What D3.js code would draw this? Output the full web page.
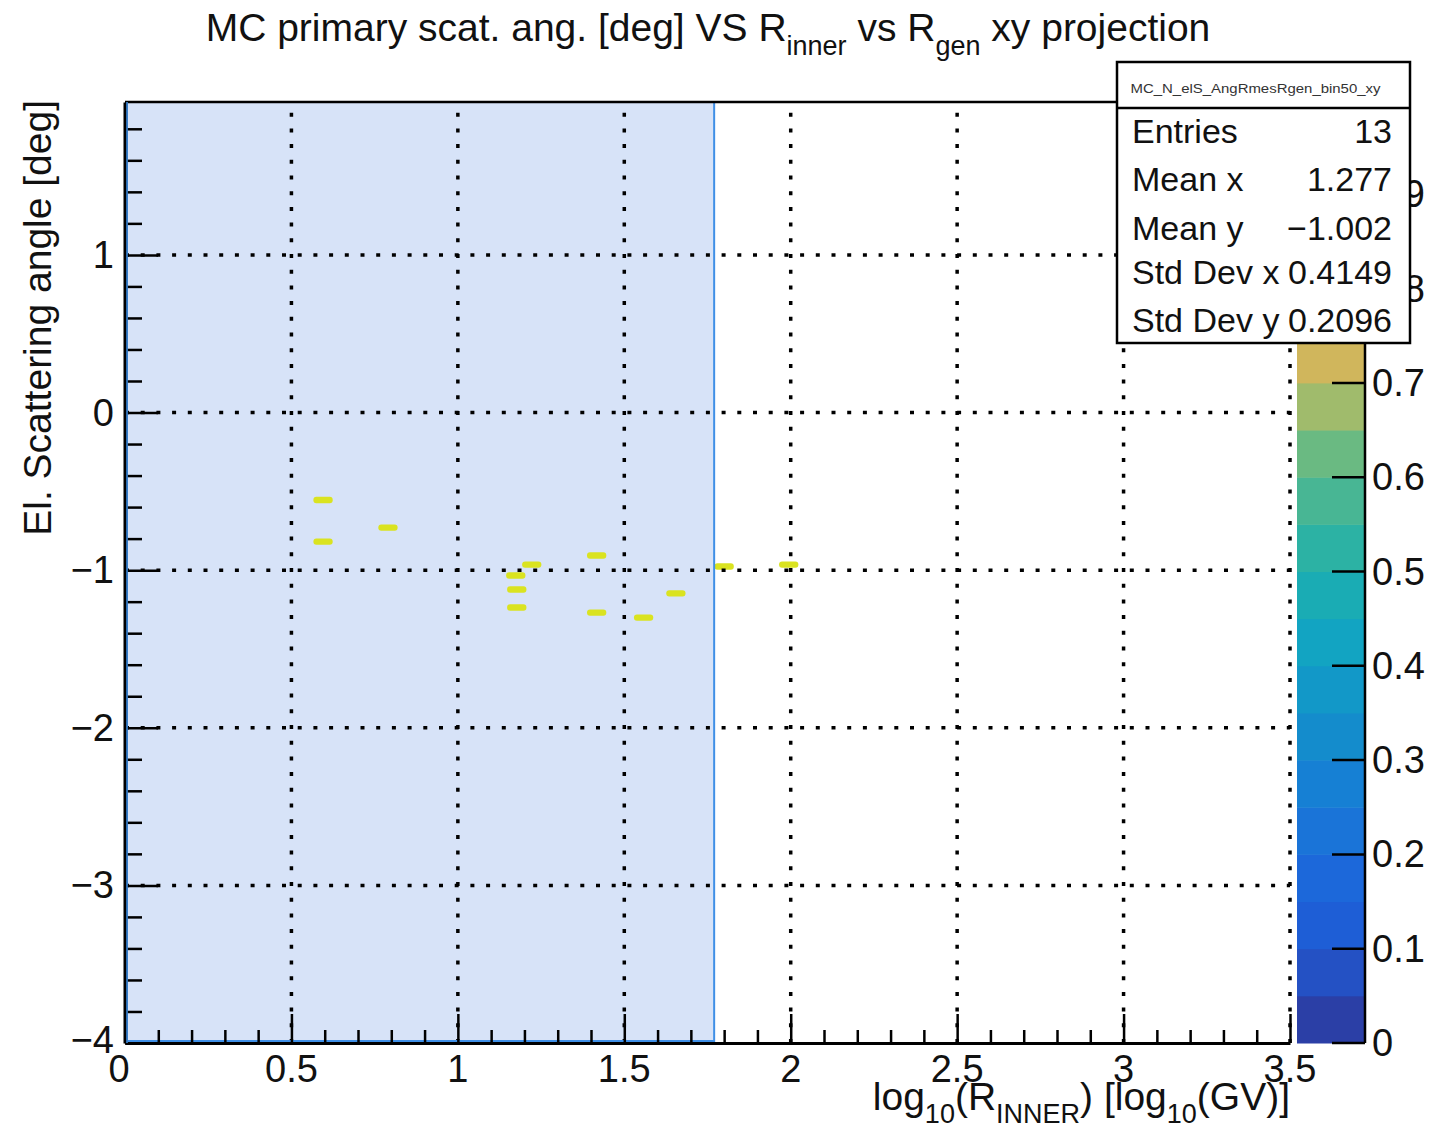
<!DOCTYPE html>
<html>
<head>
<meta charset="utf-8">
<script src="https://d3js.org/d3.v7.min.js"></script>
<style>
  html, body { margin: 0; padding: 0; background: #fff; }
  svg { font-family: 'Liberation Sans', Arial, sans-serif; }
</style>
</head>
<body>
<div id="chart"></div>
<script>
// filled bins (centers), content of each bin
const binX = [0.595, 0.595, 0.790, 1.222, 1.174, 1.177, 1.177, 1.417, 1.417, 1.558, 1.655, 1.800, 1.994]
const binY = [-0.555, -0.819, -0.730, -0.965, -1.034, -1.123, -1.237, -0.907, -1.269, -1.301, -1.148, -0.977, -0.965]
const binZ = [1, 1, 1, 1, 1, 1, 1, 1, 1, 1, 1, 1, 1]

const xTicks = [0, 0.5, 1, 1.5, 2, 2.5, 3, 3.5]
const yTicks = [-4, -3, -2, -1, 0, 1]
const zTicks = [0, 0.1, 0.2, 0.3, 0.4, 0.5, 0.6, 0.7, 0.8, 0.9, 1]

const statNames = ['Entries', 'Mean x', 'Mean y', 'Std Dev x', 'Std Dev y']
const statValues = ['13', '1.277', '\u22121.002', '0.4149', '0.2096']
const statTitle = 'MC_N_elS_AngRmesRgen_bin50_xy'

// region shaded in blue (x range)
const cutRange = [0, 1.77]

// 20 contour colours, bottom to top
const palette = ['#2b3fa6', '#2451c4', '#1e5ed6', '#1c68da', '#1a74d8', '#1680d4', '#148ccc', '#1298c8',
  '#12a4c2', '#1aacb4', '#2cb2a4', '#48b694', '#6aba82', '#a0bb6c', '#d0b65c', '#e4be4a',
  '#ecca3a', '#ecd62e', '#e4de26', '#dae320']

const W = 1455, H = 1130
const frame = {left: 125, right: 1290, top: 102, bottom: 1043}
const FS = 38, SUB = 27

const svg = d3.select('#chart').append('svg')
  .attr('width', W).attr('height', H)

const x = d3.scaleLinear().domain([0, 3.5]).range([frame.left, frame.right])
const y = d3.scaleLinear().domain([-4, 1.97]).range([frame.bottom, frame.top])
const z = d3.scaleLinear().domain([0, 1]).range([frame.bottom, 100])
const zColor = d3.scaleQuantize().domain([0, 1]).range(palette)

// blue shaded box
svg.append('rect')
  .attr('x', x(cutRange[0])).attr('y', frame.top)
  .attr('width', x(cutRange[1]) - x(cutRange[0])).attr('height', frame.bottom - frame.top)
  .attr('fill', '#d7e3f8')

// bins
const bw = 0.058, bh = 0.04
svg.selectAll('.bin')
  .data(binX.map((d, i) => ({x: d, y: binY[i], z: binZ[i]})))
  .enter().append('rect')
  .attr('x', d => x(d.x - bw / 2))
  .attr('y', d => y(d.y + bh / 2))
  .attr('width', x(bw) - x(0))
  .attr('height', y(0) - y(bh))
  .attr('rx', 3)
  .attr('fill', d => zColor(Math.min(d.z, 0.999)))

// grid
const gridStyle = g => g.attr('stroke', '#000').attr('stroke-width', 3.5)
  .attr('stroke-dasharray', '4,11.7')
svg.append('g').selectAll('line')
  .data(xTicks.filter(d => d > 0)).enter().append('line')
  .attr('x1', d => x(d)).attr('x2', d => x(d))
  .attr('y1', frame.bottom).attr('y2', frame.top)
  .call(gridStyle)
svg.append('g').selectAll('line')
  .data(yTicks.filter(d => d > -4)).enter().append('line')
  .attr('y1', d => y(d)).attr('y2', d => y(d))
  .attr('x1', frame.left).attr('x2', frame.right)
  .call(gridStyle)

// box border
svg.append('rect')
  .attr('x', x(cutRange[0]) + 2).attr('y', frame.top)
  .attr('width', x(cutRange[1]) - x(cutRange[0]) - 2).attr('height', frame.bottom - frame.top - 2)
  .attr('fill', 'none').attr('stroke', '#3f8fe6').attr('stroke-width', 2)

// frame
svg.append('line').attr('x1', frame.left).attr('x2', frame.right)
  .attr('y1', frame.top).attr('y2', frame.top).attr('stroke', '#000').attr('stroke-width', 2.5)

// axes, ROOT-like ticks drawn inside
const xAxis = d3.axisBottom(x).tickValues(d3.range(0, 3.501, 0.1)).tickSize(0).tickFormat('')
const xg = svg.append('g').attr('transform', `translate(0,${frame.bottom})`).call(xAxis)
xg.select('.domain').attr('stroke', '#000').attr('stroke-width', 3)
xg.selectAll('.tick line')
  .attr('y2', d => Math.abs(d * 2 - Math.round(d * 2)) < 1e-6 ? -29 : -13)
  .attr('stroke', '#000').attr('stroke-width', 2.5)
svg.append('g').selectAll('text').data(xTicks).enter().append('text')
  .attr('x', d => x(d) - (d === 0 ? 6 : 0)).attr('y', 1082)
  .attr('text-anchor', 'middle').attr('font-size', FS).attr('fill', '#111')
  .text(d => d)

const yAxis = d3.axisLeft(y).tickValues(d3.range(-4, 1.97, 0.2)).tickSize(0).tickFormat('')
const yg = svg.append('g').attr('transform', `translate(${frame.left},0)`).call(yAxis)
yg.select('.domain').attr('stroke', '#000').attr('stroke-width', 4)
yg.selectAll('.tick line')
  .attr('x2', d => Math.abs(d - Math.round(d)) < 1e-6 ? 33 : 17)
  .attr('stroke', '#000').attr('stroke-width', 2.5)
svg.append('g').selectAll('text').data(yTicks).enter().append('text')
  .attr('x', 114).attr('y', d => y(d) + 13 - (d === -4 ? 3 : 0))
  .attr('text-anchor', 'end').attr('font-size', FS).attr('fill', '#111')
  .text(d => d < 0 ? '\u2212' + Math.abs(d) : d)

// left blue edge of the box over axis
svg.append('line').attr('x1', frame.left + 2).attr('x2', frame.left + 2)
  .attr('y1', frame.top).attr('y2', frame.bottom).attr('stroke', '#3f8fe6').attr('stroke-width', 1.5)

// colour bar
const cb = {left: 1297, right: 1365}
svg.append('g').selectAll('rect').data(palette).enter().append('rect')
  .attr('x', cb.left).attr('width', cb.right - cb.left)
  .attr('y', (d, i) => z((i + 1) / palette.length))
  .attr('height', (d, i) => z(i / palette.length) - z((i + 1) / palette.length) + 0.5)
  .attr('fill', d => d)
svg.append('line').attr('x1', cb.right).attr('x2', cb.right)
  .attr('y1', z(1)).attr('y2', frame.bottom).attr('stroke', '#000').attr('stroke-width', 2.5)
svg.append('g').selectAll('line').data(zTicks).enter().append('line')
  .attr('x1', cb.right - 33).attr('x2', cb.right)
  .attr('y1', d => z(d)).attr('y2', d => z(d))
  .attr('stroke', '#000').attr('stroke-width', 2.5)
svg.append('g').selectAll('text').data(zTicks).enter().append('text')
  .attr('x', 1372).attr('y', d => z(d) + 13)
  .attr('font-size', FS).attr('fill', '#111')
  .text(d => d3.format('.1~f')(d))

// title
const title = svg.append('text').attr('x', 708).attr('y', 41)
  .attr('text-anchor', 'middle').attr('font-size', 39).attr('fill', '#111')
title.append('tspan').text('MC primary scat. ang. [deg] VS R')
title.append('tspan').attr('font-size', SUB).attr('dy', 14).text('inner')
title.append('tspan').attr('dy', -14).text(' vs R')
title.append('tspan').attr('font-size', SUB).attr('dy', 14).text('gen')
title.append('tspan').attr('dy', -14).text(' xy projection')

// axis titles
const xt = svg.append('text').attr('x', frame.right).attr('y', 1110)
  .attr('text-anchor', 'end').attr('font-size', 39).attr('fill', '#111')
xt.append('tspan').text('log')
xt.append('tspan').attr('font-size', SUB).attr('dy', 13).text('10')
xt.append('tspan').attr('dy', -13).text('(R')
xt.append('tspan').attr('font-size', SUB).attr('dy', 13).text('INNER')
xt.append('tspan').attr('dy', -13).text(') [log')
xt.append('tspan').attr('font-size', SUB).attr('dy', 13).text('10')
xt.append('tspan').attr('dy', -13).text('(GV)]')

svg.append('text')
  .attr('transform', 'translate(51,100) rotate(-90)')
  .attr('text-anchor', 'end').attr('font-size', 39).attr('fill', '#111')
  .text('El. Scattering angle [deg]')

// stats box
const sb = {x: 1117, y: 62, w: 293, h: 281}
const stats = svg.append('g')
stats.append('rect').attr('x', sb.x).attr('y', sb.y).attr('width', sb.w).attr('height', sb.h)
  .attr('fill', '#fff').attr('stroke', '#000').attr('stroke-width', 2.5)
stats.append('line').attr('x1', sb.x).attr('x2', sb.x + sb.w)
  .attr('y1', 108).attr('y2', 108).attr('stroke', '#000').attr('stroke-width', 2.5)
stats.append('text').attr('x', sb.x + sb.w / 2 - 8).attr('y', 93)
  .attr('text-anchor', 'middle').attr('font-size', 12).attr('fill', '#333')
  .attr('textLength', 250).attr('lengthAdjust', 'spacingAndGlyphs')
  .text(statTitle)
const rowY = [143, 191, 240, 284, 332]
stats.selectAll('.sn').data(statNames).enter().append('text')
  .attr('x', 1132).attr('y', (d, i) => rowY[i])
  .attr('font-size', 34).attr('fill', '#111').text(d => d)
stats.selectAll('.sv').data(statValues).enter().append('text')
  .attr('x', 1392).attr('y', (d, i) => rowY[i])
  .attr('text-anchor', 'end').attr('font-size', 34).attr('fill', '#111').text(d => d)
</script>
</body>
</html>
